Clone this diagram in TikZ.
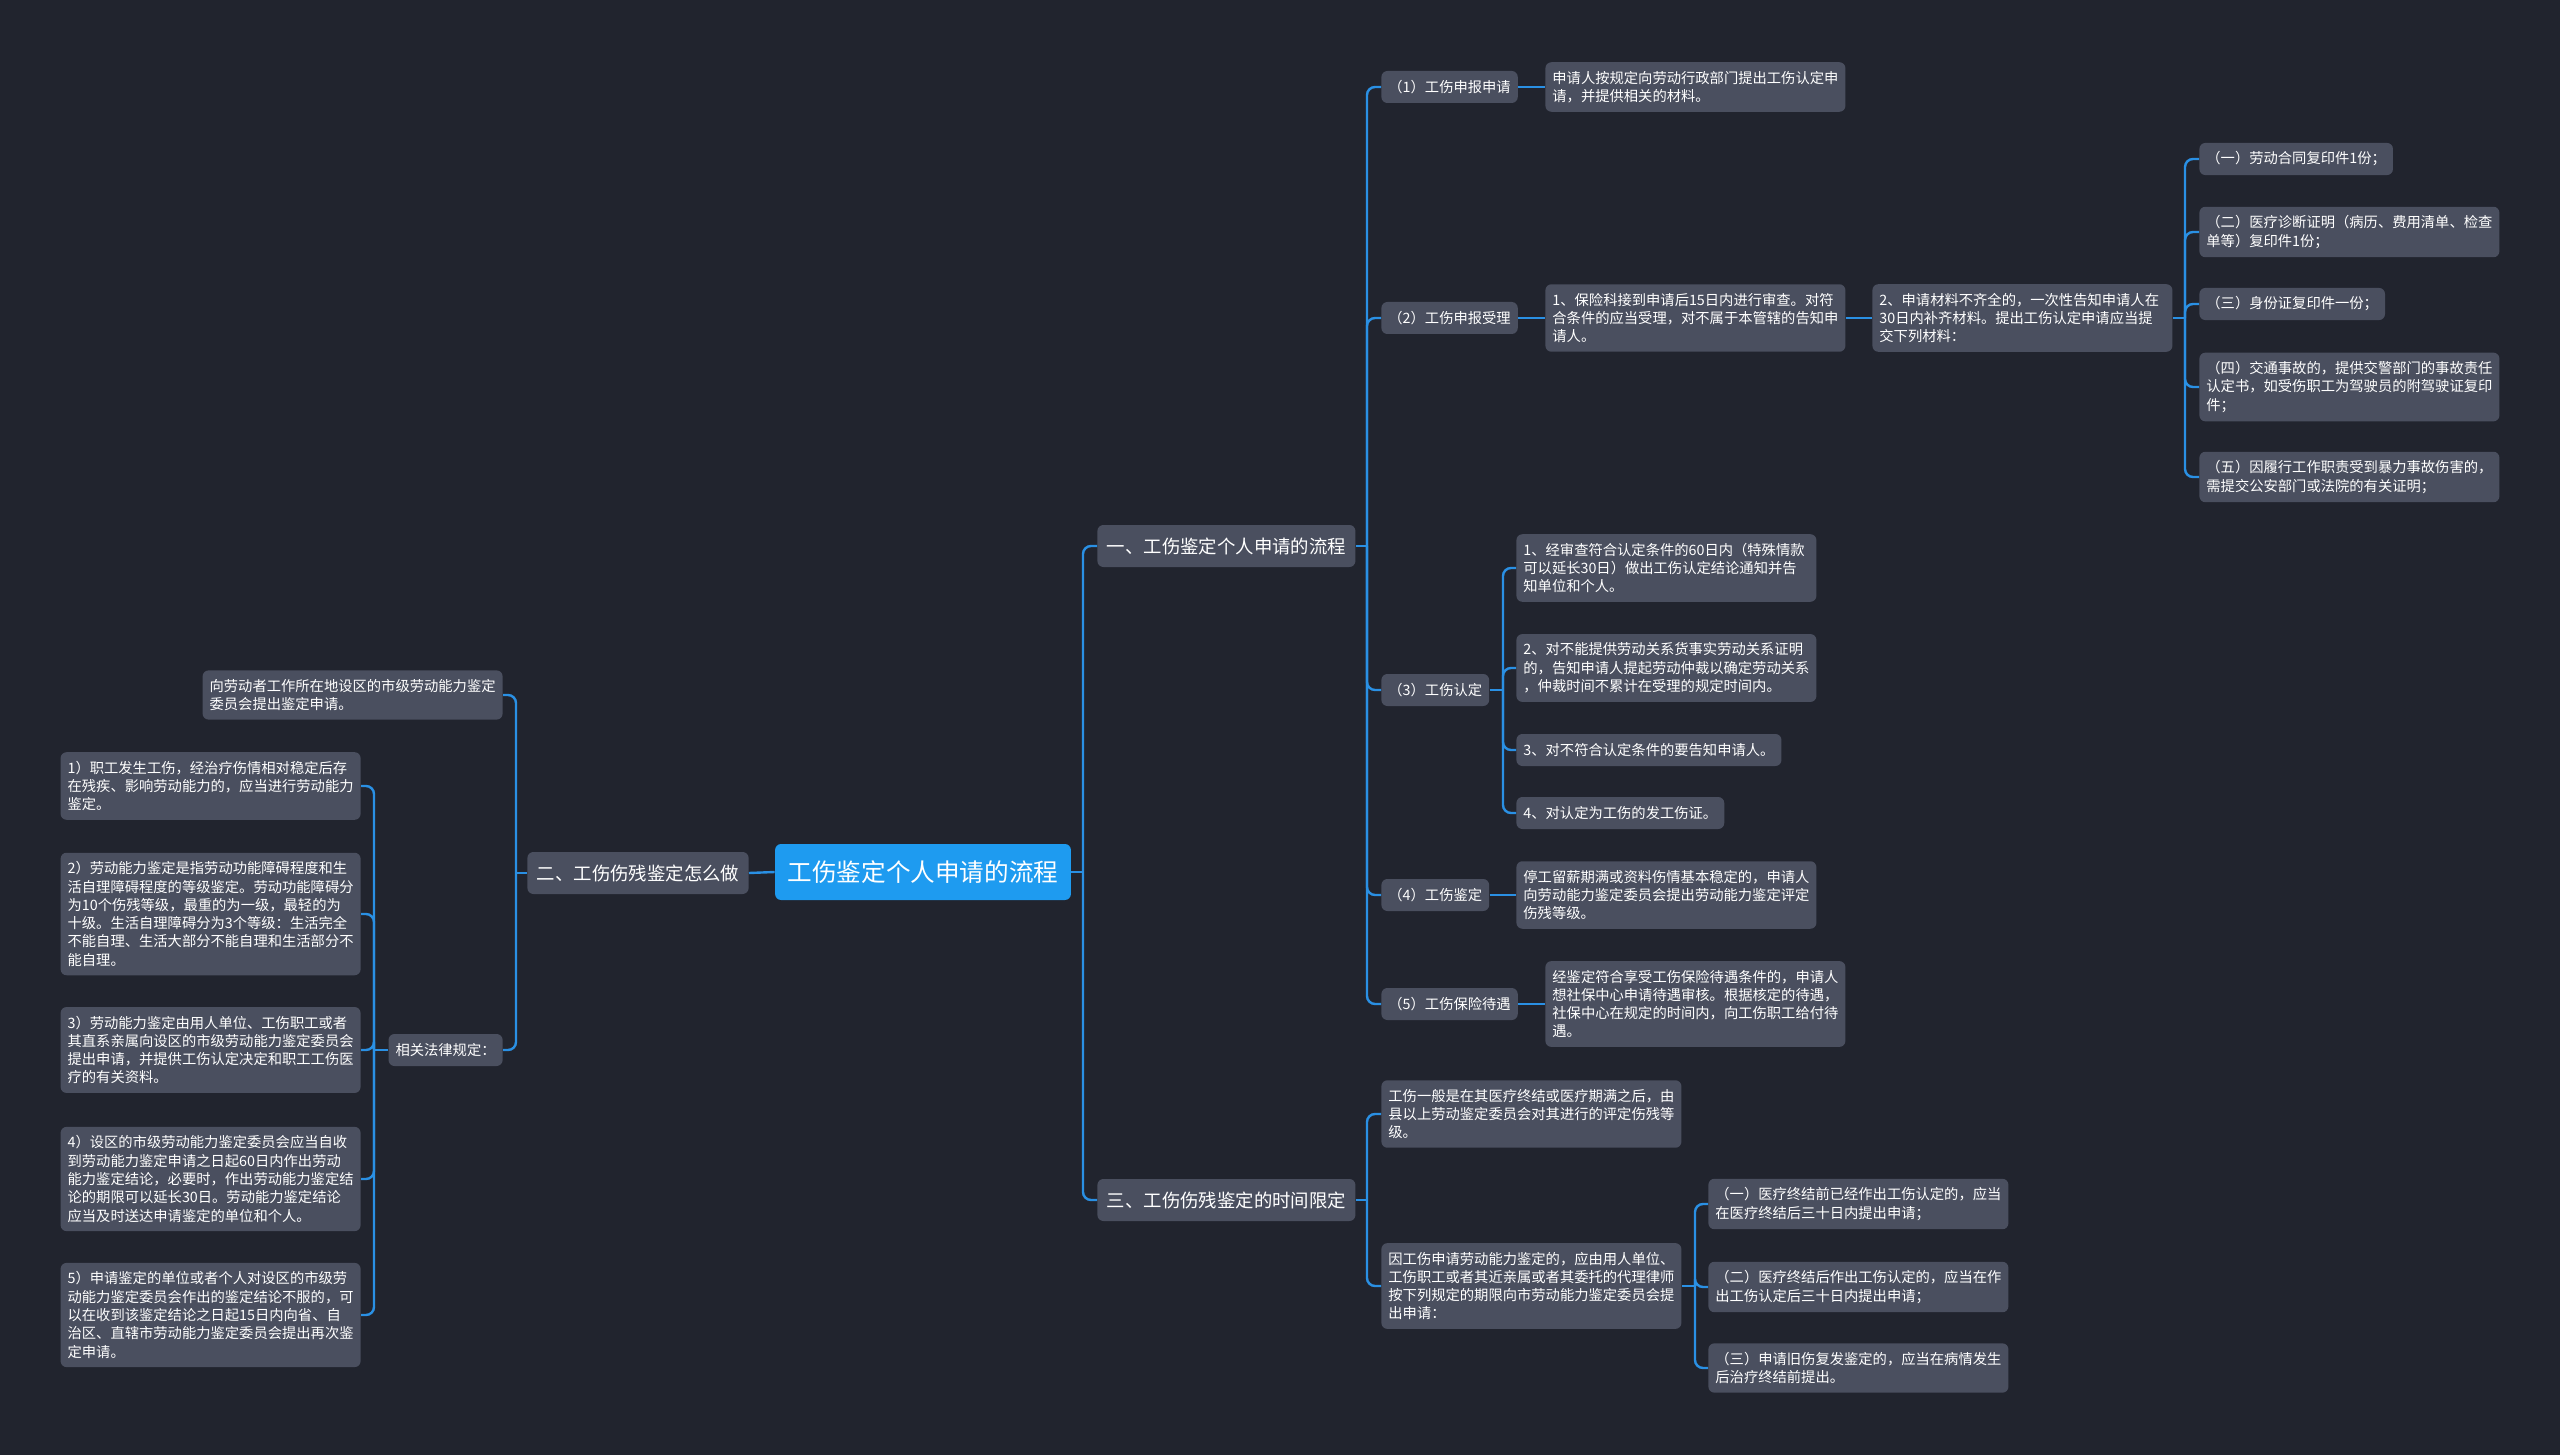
\documentclass[tikz,border=0pt]{standalone}
\usepackage{fontspec}
\setmainfont{Noto Sans CJK SC}
\usepackage{xcolor}
\usepackage{tikz}
\usetikzlibrary{positioning,calc}
\definecolor{cBg}{HTML}{21242E}
\definecolor{cNode}{HTML}{4A4F5F}
\definecolor{cRoot}{HTML}{1E9BF0}
\definecolor{cLine}{HTML}{2A90E4}
\newcommand{\fsz}[2]{\fontsize{#1}{#2}\selectfont}
\tikzset{
  base/.style={rounded corners=3pt,fill=cNode,text=white,align=left,font=\fsz{7.15pt}{9.15pt},inner xsep=3.5pt,inner ysep=4.4pt,minimum height=16pt},
  txt/.style={base,text width=143pt},
  topic/.style={base,font=\fsz{9.2pt}{11pt},inner xsep=4.7pt,minimum height=21pt},
  rootn/.style={base,fill=cRoot,font=\fsz{12.3pt}{14pt},inner xsep=6.3pt,minimum height=28pt},
  conn/.style={draw=cLine,line width=1.2pt,rounded corners=4pt}}
\begin{document}
\begin{tikzpicture}[x=0.5pt,y=-0.5pt]
\fill[cBg] (0,0) rectangle (2560,1455);
\node[rootn] (root) at (923,872) {工伤鉴定个人申请的流程};
\node[topic, anchor=west] (flow)  at (1097,546)  {一、工伤鉴定个人申请的流程};
\node[topic, anchor=east] (howto) at (749,873)   {二、工伤伤残鉴定怎么做};
\node[topic, anchor=west] (limit) at (1097,1200) {三、工伤伤残鉴定的时间限定};
\node[base, anchor=west] (apply)   at (1381,87)   {（1）工伤申报申请};
\node[base, anchor=west] (accept)  at (1381,318)  {（2）工伤申报受理};
\node[base, anchor=west] (recog)   at (1381,690)  {（3）工伤认定};
\node[base, anchor=west] (assess)  at (1381,895)  {（4）工伤鉴定};
\node[base, anchor=west] (benefit) at (1381,1004) {（5）工伤保险待遇};
\node[txt, anchor=west] (applyTxt) at (1545,87)
  {申请人按规定向劳动行政部门提出工伤认定申\\请，并提供相关的材料。};
\node[txt, anchor=west] (acceptTxt) at (1545,318)
  {1、保险科接到申请后15日内进行审查。对符\\合条件的应当受理，对不属于本管辖的告知申\\请人。};
\node[txt, anchor=west] (materials) at (1872,318)
  {2、申请材料不齐全的，一次性告知申请人在\\30日内补齐材料。提出工伤认定申请应当提\\交下列材料：};
\node[base, anchor=west] (mat1) at (2199,159) {（一）劳动合同复印件1份；};
\node[txt, anchor=west] (mat2) at (2199,232)
  {（二）医疗诊断证明（病历、费用清单、检查\\单等）复印件1份；};
\node[base, anchor=west] (mat3) at (2199,304) {（三）身份证复印件一份；};
\node[txt, anchor=west] (mat4) at (2199,387)
  {（四）交通事故的，提供交警部门的事故责任\\认定书，如受伤职工为驾驶员的附驾驶证复印\\件；};
\node[txt, anchor=west] (mat5) at (2199,477)
  {（五）因履行工作职责受到暴力事故伤害的，\\需提交公安部门或法院的有关证明；};
\node[txt, anchor=west] (recog1) at (1516,568)
  {1、经审查符合认定条件的60日内（特殊情款\\可以延长30日）做出工伤认定结论通知并告\\知单位和个人。};
\node[txt, anchor=west] (recog2) at (1516,668)
  {2、对不能提供劳动关系货事实劳动关系证明\\的，告知申请人提起劳动仲裁以确定劳动关系\\，仲裁时间不累计在受理的规定时间内。};
\node[base, anchor=west] (recog3) at (1516,750) {3、对不符合认定条件的要告知申请人。};
\node[base, anchor=west] (recog4) at (1516,813) {4、对认定为工伤的发工伤证。};
\node[txt, anchor=west] (assessTxt) at (1516,895)
  {停工留薪期满或资料伤情基本稳定的，申请人\\向劳动能力鉴定委员会提出劳动能力鉴定评定\\伤残等级。};
\node[txt, anchor=west] (benefitTxt) at (1545,1004)
  {经鉴定符合享受工伤保险待遇条件的，申请人\\想社保中心申请待遇审核。根据核定的待遇，\\社保中心在规定的时间内，向工伤职工给付待\\遇。};
\node[txt, anchor=west] (limitGen) at (1381,1114)
  {工伤一般是在其医疗终结或医疗期满之后，由\\县以上劳动鉴定委员会对其进行的评定伤残等\\级。};
\node[txt, anchor=west] (limitReq) at (1381,1286)
  {因工伤申请劳动能力鉴定的，应由用人单位、\\工伤职工或者其近亲属或者其委托的代理律师\\按下列规定的期限向市劳动能力鉴定委员会提\\出申请：};
\node[txt, anchor=west] (req1) at (1708,1204)
  {（一）医疗终结前已经作出工伤认定的，应当\\在医疗终结后三十日内提出申请；};
\node[txt, anchor=west] (req2) at (1708,1287)
  {（二）医疗终结后作出工伤认定的，应当在作\\出工伤认定后三十日内提出申请；};
\node[txt, anchor=west] (req3) at (1708,1368)
  {（三）申请旧伤复发鉴定的，应当在病情发生\\后治疗终结前提出。};
\node[txt, anchor=east] (howtoTxt) at (503,695)
  {向劳动者工作所在地设区的市级劳动能力鉴定\\委员会提出鉴定申请。};
\node[base, anchor=east] (lawRule) at (503,1050) {相关法律规定：};
\node[txt, anchor=east] (law1) at (361,786)
  {1）职工发生工伤，经治疗伤情相对稳定后存\\在残疾、影响劳动能力的，应当进行劳动能力\\鉴定。};
\node[txt, anchor=east] (law2) at (361,914)
  {2）劳动能力鉴定是指劳动功能障碍程度和生\\活自理障碍程度的等级鉴定。劳动功能障碍分\\为10个伤残等级，最重的为一级，最轻的为\\十级。生活自理障碍分为3个等级：生活完全\\不能自理、生活大部分不能自理和生活部分不\\能自理。};
\node[txt, anchor=east] (law3) at (361,1050)
  {3）劳动能力鉴定由用人单位、工伤职工或者\\其直系亲属向设区的市级劳动能力鉴定委员会\\提出申请，并提供工伤认定决定和职工工伤医\\疗的有关资料。};
\node[txt, anchor=east] (law4) at (361,1179)
  {4）设区的市级劳动能力鉴定委员会应当自收\\到劳动能力鉴定申请之日起60日内作出劳动\\能力鉴定结论，必要时，作出劳动能力鉴定结\\论的期限可以延长30日。劳动能力鉴定结论\\应当及时送达申请鉴定的单位和个人。};
\node[txt, anchor=east] (law5) at (361,1315)
  {5）申请鉴定的单位或者个人对设区的市级劳\\动能力鉴定委员会作出的鉴定结论不服的，可\\以在收到该鉴定结论之日起15日内向省、自\\治区、直辖市劳动能力鉴定委员会提出再次鉴\\定申请。};
\coordinate (rootR) at (1083,872); \coordinate (flowR) at (1367,546); \coordinate (matR) at (2185,318);
\coordinate (recogR) at (1503,690); \coordinate (limitR) at (1367,1200); \coordinate (reqR) at (1695,1286);
\coordinate (howtoL) at (516,873); \coordinate (lawL) at (374,1050);
\draw[conn] (root.east)--(rootR); \draw[conn] (rootR)|-(flow.west); \draw[conn] (rootR)|-(limit.west);
\draw[conn] (root.west)--(howto.east);
\draw[conn] (flow.east)--(flowR);
\foreach \n in {apply,accept,recog,assess,benefit} {\draw[conn] (flowR)|-(\n.west);}
\draw[conn] (apply)--(applyTxt); \draw[conn] (accept)--(acceptTxt); \draw[conn] (acceptTxt)--(materials);
\draw[conn] (materials.east)--(matR);
\foreach \n in {mat1,mat2,mat3,mat4,mat5} {\draw[conn] (matR)|-(\n.west);}
\draw[conn] (recog.east)--(recogR);
\foreach \n in {recog1,recog2,recog3,recog4} {\draw[conn] (recogR)|-(\n.west);}
\draw[conn] (assess)--(assessTxt); \draw[conn] (benefit)--(benefitTxt);
\draw[conn] (limit.east)--(limitR); \draw[conn] (limitR)|-(limitGen.west); \draw[conn] (limitR)|-(limitReq.west);
\draw[conn] (limitReq.east)--(reqR);
\foreach \n in {req1,req2,req3} {\draw[conn] (reqR)|-(\n.west);}
\draw[conn] (howto.west)--(howtoL); \draw[conn] (howtoL)|-(howtoTxt.east); \draw[conn] (howtoL)|-(lawRule.east);
\draw[conn] (lawRule.west)--(lawL);
\foreach \n in {law1,law2,law3,law4,law5} {\draw[conn] (lawL)|-(\n.east);}
\end{tikzpicture}
\end{document}
